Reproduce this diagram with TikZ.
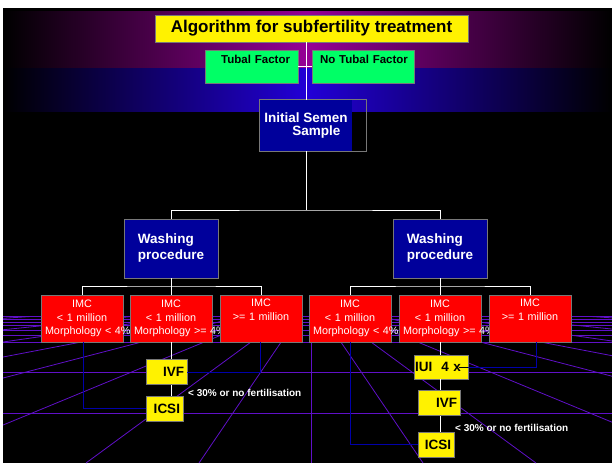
\documentclass[tikz,border=0pt]{standalone}
\usepackage{fontspec}
\setmainfont{Liberation Sans}

\definecolor{slidenavy}{RGB}{0,0,155}
\definecolor{linknavy}{RGB}{0,0,170}
\definecolor{gridpurple}{RGB}{96,16,200}
\definecolor{bandpurple}{RGB}{150,0,150}
\definecolor{bandblue}{RGB}{34,0,215}
\definecolor{boxgray}{RGB}{120,120,120}
\definecolor{tubalgreen}{RGB}{0,255,102}

\tikzset{
    box/.style={draw=boxgray, line width=0.8pt, inner sep=0pt},
    yellowbox/.style={box, fill=yellow, font=\bfseries\fontsize{13.5}{16}\selectfont,
        inner xsep=3pt, align=right, minimum height=25pt},
    greenbox/.style={box, fill=tubalgreen, font=\bfseries\fontsize{11.5}{14}\selectfont,
        inner xsep=8pt, inner ysep=5pt, text height=8.5pt, text depth=14.5pt},
    bluebox/.style={box, fill=slidenavy, text=white, font=\bfseries\fontsize{13.5}{16}\selectfont, align=left},
    redbox/.style={box, fill=red, text=white, font=\fontsize{10.8}{13.5}\selectfont,
        text width=74pt, inner xsep=4pt, align=center, minimum height=47pt},
    link/.style={draw=white, line width=0.8pt},
    backlink/.style={draw=linknavy, line width=0.8pt},
    gridline/.style={draw=gridpurple, line width=0.8pt},
    note/.style={text=white, font=\bfseries\fontsize{10}{12}\selectfont, inner sep=0pt, anchor=west}
}

\begin{document}
\begin{tikzpicture}[x=1pt, y=-1pt]
\useasboundingbox (0,0) rectangle (612,463);
\fill[white] (0,0) rectangle (612,463);
\fill[black] (3,8) rectangle (612,463);
\shade[left color=black, right color=black, middle color=bandpurple] (3,11) rectangle (612,68);
\shade[left color=black, right color=black, middle color=bandblue] (3,68) rectangle (612,111);

% floor grid
\begin{scope}
    \clip (3,316) rectangle (612,463);
    \foreach \y in {316,319,322,325,330,335,342,372,413}
        \draw[gridline] (3,\y) -- (612,\y);
    \foreach \d in {0,112,225,400,635,861,1155,1600,2500}{
        \draw[gridline] (311,298) -- (311+\d,463);
        \draw[gridline] (311,298) -- (311-\d,463);
    }
\end{scope}

\node[box, fill=yellow, minimum width=313pt, minimum height=27pt,
    font=\bfseries\fontsize{17}{20}\selectfont] (title) at (311.5,28.5) {Algorithm for subfertility treatment};
\node[greenbox, text width=77pt, align=right] (tubal) at (251.5,66.5) {\mbox{Tubal Factor}};
\node[greenbox, text width=86pt, align=left] (notubal) at (363,66.5) {\mbox{No Tubal Factor}};

\node[bluebox, draw=none, minimum width=92pt, minimum height=51pt,
    font=\bfseries\fontsize{13.5}{13}\selectfont] (semen) at (306,125.5) {Initial Semen\\\hspace*{28pt}Sample};
\draw[boxgray, line width=0.8pt] (semen.south west) rectangle ([xshift=14pt]semen.north east);

\node[bluebox, minimum width=94pt, minimum height=59pt] (washL) at (171,248.5) {Washing\\procedure};
\node[bluebox, minimum width=94pt, minimum height=59pt] (washR) at (440,248.5) {Washing\\procedure};

\node[redbox] (imcA) at (82,318.5) {IMC\\< 1 million\\\mbox{Morphology < 4\%}};
\node[redbox] (imcB) at (171,318.5) {IMC\\< 1 million\\\mbox{Morphology >= 4\%}};
\node[redbox] (imcC) at (261,318.5) {IMC\\>= 1 million\\\strut};
\node[redbox] (imcD) at (350,318.5) {IMC\\< 1 million\\\mbox{Morphology < 4\%}};
\node[redbox] (imcE) at (440,318.5) {IMC\\< 1 million\\\mbox{Morphology >= 4\%}};
\node[redbox] (imcF) at (530,318.5) {IMC\\>= 1 million\\\strut};

\node[yellowbox, text width=35pt] (ivfL) at (166.5,372) {IVF};
\node[yellowbox, text width=31pt] (icsiL) at (164.5,408.5) {ICSI};
\node[yellowbox, text width=52pt, inner xsep=1pt, align=left, minimum height=24pt] (iui) at (441,367) {IUI\ \ 4 x};
\node[yellowbox, text width=36pt] (ivfR) at (439,403) {IVF};
\node[yellowbox, text width=30pt] (icsiR) at (436,444.5) {ICSI};

\node[note] (failL) at (188,393) {< 30\% or no fertilisation};
\node[note] (failR) at (455,428) {< 30\% or no fertilisation};

\coordinate (split) at (306,210);
\coordinate (splitL) at (171,286);
\coordinate (splitR) at (440,286);

\draw[link] (title.south -| semen.north) -- (semen.north);
\draw[link] (tubal.east) -- (notubal.west);
\draw[link] (semen.south) -- (split);
\draw[link] (washL.north) |- (split) -| (washR.north);
\draw[link] (washL.south) -- (imcB.north);
\draw[link] (imcA.north) |- (splitL) -| (imcC.north);
\draw[link] (washR.south) -- (imcE.north);
\draw[link] (imcD.north) |- (splitR) -| (imcF.north);
\draw[link] (imcB.south) -- (imcB.south |- ivfL.north);
\draw[link] (imcB.south |- ivfL.south) -- (imcB.south |- icsiL.north);
\draw[link] (imcE.south) -- (imcE.south |- iui.north);
\draw[link] (imcE.south |- iui.south) -- (imcE.south |- ivfR.north);
\draw[link] (imcE.south |- ivfR.south) -- (imcE.south |- icsiR.north);

\draw[backlink] ([xshift=1pt]imcA.south) |- (icsiL.west);
\draw[backlink] ([xshift=-1pt]imcC.south) |- (ivfL.east);
\draw[backlink] (imcD.south) |- (icsiR.west);
\draw[backlink] ([xshift=6pt]imcF.south) |- (iui.east);
\draw[black, line width=0.8pt] ([xshift=-9pt]iui.east) -- (iui.east);
\end{tikzpicture}
\end{document}
